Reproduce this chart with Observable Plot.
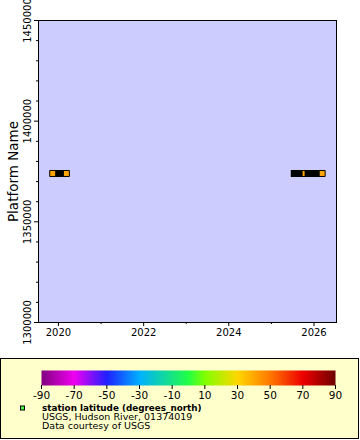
<!DOCTYPE html>
<html><head><meta charset="utf-8">
<script src="https://cdn.jsdelivr.net/npm/d3@7"></script>
<script src="https://cdn.jsdelivr.net/npm/@observablehq/plot@0.6"></script>
<style>
body{margin:0;background:#fff;font-family:"DejaVu Sans",sans-serif;width:360px;height:440px;position:relative;overflow:hidden}
#chart{position:absolute;left:0;top:0}
#box{position:absolute;left:0;top:358px;width:359px;height:81px;box-sizing:border-box;border:1px solid #000;background:#ffffcc}
#bar{position:absolute;left:0;top:370px}
#legtext{position:absolute;left:0;top:0}
</style></head><body>
<div id="chart"></div><div id="box"></div><div id="bar"></div>
<svg id="legtext" width="360" height="440" font-family="DejaVu Sans" fill="#000">
  <rect x="20.5" y="406" width="4" height="4" fill="#44ff44" stroke="#000" stroke-width="1"></rect>
  <text x="42" y="411" font-size="8.8" font-weight="bold" id="l1"></text>
  <text x="42" y="420" font-size="9.5" id="l2"></text>
  <text x="42" y="429" font-size="9.5" id="l3"></text>
</svg>
<script>
// ---- data ----
const platformIds = [1374019];
const stationLatitude = 40.76;
const segmentStart = ["2019-11-13", "2025-06-20"];
const segmentEnd = ["2020-03-09", "2026-03-12"];
const markerDates = ["2019-11-13", "2020-03-09", "2026-03-12"];
const partialMarkerDates = ["2025-10-04"];
const yTicks = [1300000, 1350000, 1400000, 1450000];
const yMinorTicks = [1310000, 1320000, 1330000, 1340000, 1360000, 1370000, 1380000, 1390000,
                     1410000, 1420000, 1430000, 1440000];
const xTickYears = [2020, 2022, 2024, 2026];
const xMinorYears = [2021, 2023, 2025];
const colorTicks = [-90, -70, -50, -30, -10, 10, 30, 50, 70, 90];
const colorStops = [-90, -70, -50, -30, 0, 10, 30, 50, 70, 90];
const yAxisTitle = "Platform Name";
const legendTitle = "station latitude (degrees_north)";
const legendSource = "USGS, Hudson River, 01374019";
const legendCredit = "Data courtesy of USGS";

// ---- styles ----
const colorStopColors = ["#800080", "#f000f0", "#2020ff", "#00b0ff", "#22ff44", "#80ff00",
                         "#ffd700", "#ff7800", "#ee0000", "#6e0000"];
const colorScale = {type: "linear", domain: colorStops, range: colorStopColors, interpolate: "rgb"};
const squareSym = {draw(ctx) { ctx.rect(-3, -3, 6, 6); }};
const sliverSym = {draw(ctx) { ctx.rect(-1, -2.5, 2, 5); }};
const yearDate = y => new Date(Date.UTC(y, 0, 1));

const segments = segmentStart.map((s, i) => ({start: new Date(s), end: new Date(segmentEnd[i]), platform: platformIds[0], lat: stationLatitude}));
const markers = markerDates.map(d => ({date: new Date(d), platform: platformIds[0], lat: stationLatitude}));
const partials = partialMarkerDates.map(d => ({date: new Date(d), platform: platformIds[0], lat: stationLatitude}));

const chart = Plot.plot({
  width: 360, height: 352,
  marginLeft: 38, marginRight: 24, marginTop: 20, marginBottom: 30,
  style: {background: "transparent", fontFamily: "DejaVu Sans", fontSize: "10px", color: "#000", overflow: "visible"},
  x: {type: "utc", domain: [new Date("2019-07-14"), new Date("2026-07-13")]},
  y: {domain: [1300000, 1450000]},
  color: colorScale,
  marks: [
    Plot.frame({fill: "#ccccff"}),
    Plot.axisX({ticks: xTickYears.map(yearDate), tickFormat: d => String(d.getUTCFullYear()), tickSize: 4, tickPadding: 2, label: null}),
    Plot.axisX({ticks: xMinorYears.map(yearDate), tickSize: 2, text: null, label: null}),
    Plot.axisY({ticks: yTicks, tickSize: 4, tickRotate: -90, tickPadding: 4, tickFormat: d => String(d), label: null}),
    Plot.axisY({ticks: yMinorTicks, tickSize: 2, text: null, label: null}),
    Plot.text([yAxisTitle], {frameAnchor: "left", textAnchor: "middle", lineAnchor: "middle", rotate: -90, dx: -25, fontSize: 13.5, text: d => d}),
    Plot.ruleY(segments, {y: "platform", x1: "start", x2: "end", stroke: "#000", strokeWidth: 7}),
    Plot.dot(partials, {x: "date", y: "platform", fill: "lat", symbol: sliverSym, r: 3}),
    Plot.dot(markers, {x: "date", y: "platform", fill: "lat", stroke: "#000", strokeWidth: 1, symbol: squareSym, r: 3}),
    Plot.frame({stroke: "#000"})
  ]
});
document.getElementById("chart").append(chart);

const bar = Plot.plot({
  width: 360, height: 32,
  marginLeft: 41, marginRight: 25, marginTop: 0, marginBottom: 17,
  style: {background: "transparent", fontFamily: "DejaVu Sans", fontSize: "10.5px", color: "#000"},
  x: {domain: [-90, 90]},
  y: {domain: [0, 1], axis: null},
  color: colorScale,
  marks: [
    Plot.raster({x1: -90, x2: 90, y1: 0, y2: 1, width: 294, height: 1, fill: (x, y) => x, imageRendering: "auto"}),
    Plot.axisX({ticks: colorTicks, tickFormat: d => String(d), tickSize: 4, tickPadding: 2, label: null})
  ]
});
document.getElementById("bar").append(bar);

document.getElementById("l1").textContent = legendTitle;
document.getElementById("l2").textContent = legendSource;
document.getElementById("l3").textContent = legendCredit;
</script>
</body></html>
